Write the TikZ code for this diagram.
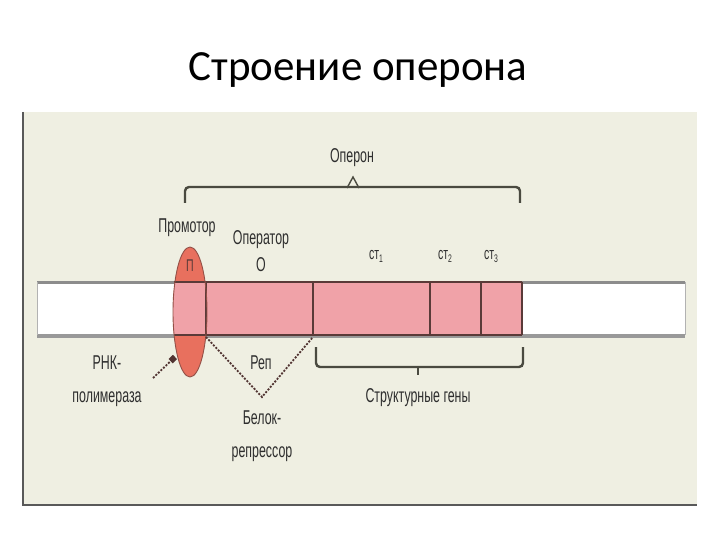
\documentclass[tikz,border=0pt]{standalone}
\usepackage{fontspec}
\setmainfont{Carlito}
\newfontfamily\lblfont{Liberation Sans}
\usetikzlibrary{arrows.meta}
\definecolor{panel}{HTML}{EFEFE2}
\definecolor{pinkg}{HTML}{F0A2A8}
\definecolor{ovalc}{HTML}{E8705E}
\definecolor{darkl}{HTML}{5A3A38}
\definecolor{brk}{HTML}{4A4A40}
\definecolor{txtc}{HTML}{2E2E2E}
\newcommand{\lowsub}[1]{\raisebox{-3pt}{\fontsize{11}{11}\selectfont #1}}
\begin{document}
\begin{tikzpicture}[x=1pt,y=-1pt,
  lbl/.style={font=\lblfont\fontsize{20}{20}\selectfont, text=txtc, xscale=0.62, inner sep=0pt},
  sub/.style={font=\lblfont\fontsize{17}{17}\selectfont, text=txtc, xscale=0.62, inner sep=0pt},
  brace/.style={draw=brk, line width=2.4pt, rounded corners=4pt},
  dline/.style={draw=darkl!90!black, line width=1.8pt, dash pattern=on 2pt off 1.5pt}]
\useasboundingbox (0,0) rectangle (720,540);
\fill[white] (0,0) rectangle (720,540);
% title
\node[font=\fontsize{43}{43}\selectfont] (title) at (358,70) {Строение оперона};
% panel
\fill[panel] (23,112) rectangle (697,505);
\draw[gray!70!black, line width=2pt] (23,112) -- (23,505) -- (697,505);
% DNA bar
\fill[white] (37,282) rectangle (685,335);
\draw[gray!90, line width=3pt] (37,282) -- (685,282);
\draw[gray!80, line width=3.5pt] (37,336) -- (685,336);
\draw[gray!60, line width=1pt] (37,282) -- (37,335) (685,282) -- (685,335);
% oval (polymerase / promoter)
\fill[ovalc] (190,312) ellipse [x radius=17, y radius=65];
\begin{scope}
\clip (150,282) rectangle (210,335);
\fill[pinkg] (190,312) ellipse [x radius=17, y radius=65];
\end{scope}
% pink region
\fill[pinkg] (206,282) rectangle (522,335);
\draw[darkl, line width=1.4pt] (174,282) -- (522,282);
\draw[darkl, line width=1.4pt] (174,335) -- (522,335);
\foreach \xx in {206,313,430,481,522} \draw[darkl, line width=1.3pt] (\xx,282) -- (\xx,335);
\draw[darkl!60!ovalc, line width=0.9pt] (190,312) ellipse [x radius=17, y radius=65];
\node[sub, text=darkl] (P) at (190,266) {П};
% top brace
\draw[brace] (185,203) -- (185,187) -- (520,187) -- (520,203);
\draw[brk, line width=1.4pt] (347,188) -- (353,177) -- (359,188);
\node[lbl] (operon) at (352,158) {Оперон};
% labels above
\node[lbl] (prom) at (187,228) {Промотор};
\node[lbl, align=center] (oper) at (261,251) {Оператор\\[7pt]О};
\node[sub] (st1) at (376,256) {ст\lowsub{1}};
\node[sub] (st2) at (445,256) {ст\lowsub{2}};
\node[sub] (st3) at (491,256) {ст\lowsub{3}};
% repressor triangle
\coordinate (t1) at (206,337);
\coordinate (t2) at (262,397);
\coordinate (t3) at (313,337);
\draw[dline] (t1) -- (t2) -- (t3);
\node[lbl] (rep) at (261,363) {Реп};
\node[lbl, align=center] (belok) at (262,436) {Белок-\\[13pt]репрессор};
% RNA polymerase
\node[lbl, align=center] (rnk) at (107,381) {РНК-\\[13pt]полимераза};
\coordinate (arrs) at (153,378);
\coordinate (arre) at (175,357);
\draw[dline, -{Square[length=6pt,width=6pt]}] (arrs) -- (arre);
% bottom brace
\draw[brace] (316,347) -- (316,367) -- (523,367) -- (523,347);
\draw[brk, line width=1.8pt] (418,367) -- (418,375);
\node[lbl] (sg) at (418,398) {Структурные гены};
\end{tikzpicture}
\end{document}
